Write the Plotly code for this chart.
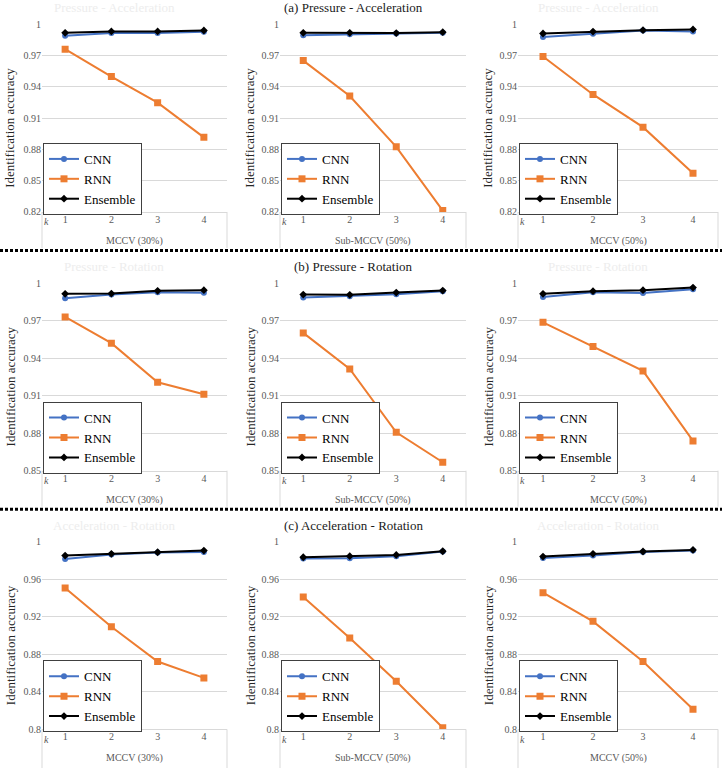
import plotly.graph_objects as go

W, H = 722, 768
FONT = "Liberation Serif, Times New Roman, serif"

# ---------------- data ----------------
k_values = [1, 2, 3, 4]
k_labels = ["1", "2", "3", "4"]
series_names = ["CNN", "RNN", "Ensemble"]

row_titles = ["(a) Pressure - Acceleration", "(b) Pressure - Rotation", "(c) Acceleration - Rotation"]
ghost_titles = ["Pressure - Acceleration", "Pressure - Rotation", "Acceleration - Rotation"]
col_xtitles = ["MCCV (30%)", "Sub-MCCV (50%)", "MCCV (50%)"]
y_title = "Identification accuracy"

# Row 1: Pressure - Acceleration
pa_mccv30_cnn = [0.9891, 0.9917, 0.9917, 0.9930]
pa_mccv30_rnn = [0.9763, 0.9500, 0.9249, 0.8916]
pa_mccv30_ens = [0.9920, 0.9933, 0.9933, 0.9942]

pa_sub50_cnn = [0.9897, 0.9907, 0.9913, 0.9920]
pa_sub50_rnn = [0.9653, 0.9313, 0.8825, 0.8213]
pa_sub50_ens = [0.9920, 0.9920, 0.9917, 0.9926]

pa_mccv50_cnn = [0.9880, 0.9910, 0.9942, 0.9932]
pa_mccv50_rnn = [0.9693, 0.9328, 0.9014, 0.8571]
pa_mccv50_ens = [0.9913, 0.9932, 0.9945, 0.9952]

# Row 2: Pressure - Rotation
pr_mccv30_cnn = [0.9880, 0.9909, 0.9928, 0.9923]
pr_mccv30_rnn = [0.9730, 0.9520, 0.9207, 0.9111]
pr_mccv30_ens = [0.9915, 0.9917, 0.9939, 0.9944]

pr_sub50_cnn = [0.9885, 0.9896, 0.9912, 0.9936]
pr_sub50_rnn = [0.9602, 0.9314, 0.8807, 0.8567]
pr_sub50_ens = [0.9909, 0.9907, 0.9925, 0.9941]

pr_mccv50_cnn = [0.9890, 0.9928, 0.9922, 0.9952]
pr_mccv50_rnn = [0.9687, 0.9494, 0.9298, 0.8738]
pr_mccv50_ens = [0.9915, 0.9936, 0.9944, 0.9965]

# Row 3: Acceleration - Rotation
ar_mccv30_cnn = [0.9818, 0.9865, 0.9886, 0.9893]
ar_mccv30_rnn = [0.9508, 0.9094, 0.8724, 0.8549]
ar_mccv30_ens = [0.9854, 0.9872, 0.9889, 0.9907]

ar_sub50_cnn = [0.9822, 0.9825, 0.9847, 0.9897]
ar_sub50_rnn = [0.9412, 0.8975, 0.8514, 0.8018]
ar_sub50_ens = [0.9836, 0.9847, 0.9861, 0.9900]

ar_mccv50_cnn = [0.9829, 0.9854, 0.9893, 0.9907]
ar_mccv50_rnn = [0.9458, 0.9152, 0.8724, 0.8214]
ar_mccv50_ens = [0.9843, 0.9872, 0.9897, 0.9914]

row1_tickvals = [0.82, 0.85, 0.88, 0.91, 0.94, 0.97, 1.0]
row1_ticktext = ["0.82", "0.85", "0.88", "0.91", "0.94", "0.97", "1"]
row2_tickvals = [0.85, 0.88, 0.91, 0.94, 0.97, 1.0]
row2_ticktext = ["0.85", "0.88", "0.91", "0.94", "0.97", "1"]
row3_tickvals = [0.80, 0.84, 0.88, 0.92, 0.96, 1.0]
row3_ticktext = ["0.8", "0.84", "0.88", "0.92", "0.96", "1"]

panels = [
    [(pa_mccv30_cnn, pa_mccv30_rnn, pa_mccv30_ens),
     (pa_sub50_cnn, pa_sub50_rnn, pa_sub50_ens),
     (pa_mccv50_cnn, pa_mccv50_rnn, pa_mccv50_ens)],
    [(pr_mccv30_cnn, pr_mccv30_rnn, pr_mccv30_ens),
     (pr_sub50_cnn, pr_sub50_rnn, pr_sub50_ens),
     (pr_mccv50_cnn, pr_mccv50_rnn, pr_mccv50_ens)],
    [(ar_mccv30_cnn, ar_mccv30_rnn, ar_mccv30_ens),
     (ar_sub50_cnn, ar_sub50_rnn, ar_sub50_ens),
     (ar_mccv50_cnn, ar_mccv50_rnn, ar_mccv50_ens)],
]
row_ticks = [(row1_tickvals, row1_ticktext), (row2_tickvals, row2_ticktext), (row3_tickvals, row3_ticktext)]

# ---------------- layout geometry (target pixels in the screenshot) ----------------
col_px = [(42, 227), (280, 466), (518, 718)]
row_top = [25, 283, 541]
plot_h = 187
ytitle_x = [10, 250, 488]
title_cx = 353.5
ghost_cx = [114, 598]
sep_y = [250.5, 508.5]

# observed vertical mapping of the page capture (offset, scale)
Y_OFF, Y_SCALE = 6.6, 0.983

styles = {
    "CNN": dict(color="#4472C4", symbol="circle", size=6),
    "RNN": dict(color="#ED7D31", symbol="square", size=7),
    "Ensemble": dict(color="#000000", symbol="diamond", size=6),
}

def fx(x):
    return x / W

def fy(y):
    return 1 - ((y - Y_OFF) / Y_SCALE) / H

fig = go.Figure()
layout = dict(
    width=W, height=H, autosize=False,
    margin=dict(l=0, r=0, t=0, b=0),
    paper_bgcolor="white", plot_bgcolor="white",
    font=dict(family=FONT, color="#595959", size=10),
    showlegend=True,
)
shapes = []
annotations = []

for r in range(3):
    top = row_top[r]
    bot = top + plot_h
    tv, tt = row_ticks[r]
    for c in range(3):
        i = r * 3 + c + 1
        sfx = "" if i == 1 else str(i)
        left, right = col_px[c]
        leg = "legend" + sfx
        for name, vals in zip(series_names, panels[r][c]):
            st = styles[name]
            fig.add_trace(go.Scatter(
                x=k_values, y=vals, name=name, mode="lines+markers",
                line=dict(color=st["color"], width=2),
                marker=dict(symbol=st["symbol"], size=st["size"], color=st["color"]),
                xaxis="x" + sfx, yaxis="y" + sfx, legend=leg,
            ))
        layout["xaxis" + sfx] = dict(
            domain=[fx(left), fx(right)], anchor="y" + sfx,
            range=[0.5, 4.5], tickvals=k_values, ticktext=k_labels,
            showgrid=False, zeroline=False, showline=True, linecolor="#d9d9d9", linewidth=1,
            ticks="", ticklabelstandoff=-2,
            tickfont=dict(family=FONT, size=10, color="#595959"), fixedrange=True,
        )
        layout["yaxis" + sfx] = dict(
            domain=[fy(bot), fy(top)], anchor="x" + sfx,
            range=[tv[0], 1.0], tickvals=tv, ticktext=tt,
            showgrid=True, gridcolor="#d9d9d9", gridwidth=1, zeroline=False, showline=False,
            ticks="", tickfont=dict(family=FONT, size=10, color="#595959"), fixedrange=True,
        )
        layout[leg] = dict(
            x=fx(left + 1), y=fy(bot + 3), xanchor="left", yanchor="bottom",
            xref="paper", yref="paper",
            bgcolor="white", bordercolor="#404040", borderwidth=1,
            font=dict(family=FONT, size=13, color="#000000"),
            itemwidth=30, tracegroupgap=0, traceorder="normal",
        )
        # category box below plot
        box_bot = 768 if r == 2 else bot + 36
        for xx in (left, right):
            shapes.append(dict(type="line", xref="paper", yref="paper",
                               x0=fx(xx), x1=fx(xx), y0=fy(bot), y1=fy(box_bot),
                               line=dict(color="#d9d9d9", width=1)))
        # k label
        annotations.append(dict(text="<i>k</i>", x=fx(left + 4), y=fy(bot + 10),
                                xref="paper", yref="paper", showarrow=False,
                                xanchor="center", yanchor="middle",
                                font=dict(family=FONT, size=10, color="#595959")))
        # x axis title
        annotations.append(dict(text=col_xtitles[c], x=fx((left + right) / 2), y=fy(bot + 29),
                                xref="paper", yref="paper", showarrow=False,
                                xanchor="center", yanchor="middle",
                                font=dict(family=FONT, size=10, color="#595959")))
        # y axis title
        annotations.append(dict(text=y_title, x=fx(ytitle_x[c]), y=fy(top + plot_h / 2 + 9.5),
                                xref="paper", yref="paper", showarrow=False, textangle=-90,
                                xanchor="center", yanchor="middle",
                                font=dict(family=FONT, size=13, color="#262626")))
    # row title
    annotations.append(dict(text=row_titles[r], x=fx(title_cx), y=fy(top - 16.5),
                            xref="paper", yref="paper", showarrow=False,
                            xanchor="center", yanchor="middle",
                            font=dict(family=FONT, size=13, color="#1a1a1a")))
    for gx in ghost_cx:
        annotations.append(dict(text=ghost_titles[r], x=fx(gx), y=fy(top - 16.5),
                                xref="paper", yref="paper", showarrow=False,
                                xanchor="center", yanchor="middle",
                                font=dict(family=FONT, size=13, color="#ededed")))

for sy in sep_y:
    shapes.append(dict(type="line", xref="paper", yref="paper",
                       x0=0, x1=1, y0=fy(sy), y1=fy(sy),
                       line=dict(color="#000000", width=3, dash="3px,2px")))

layout["shapes"] = shapes
layout["annotations"] = annotations
fig.update_layout(**layout)

fig.write_html("out.html", config={"displayModeBar": False},
               post_script="document.body.style.margin='0';")
